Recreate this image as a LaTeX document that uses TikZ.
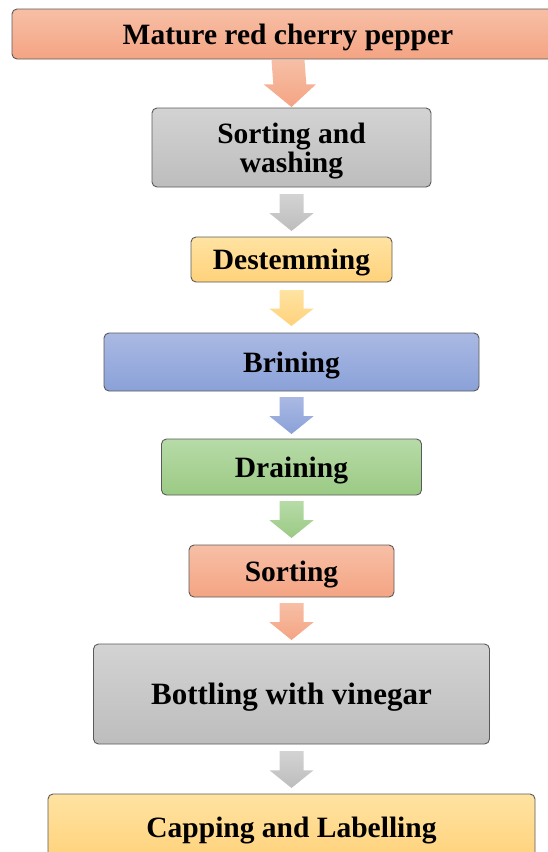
\documentclass[tikz,border=0pt]{standalone}
\usepackage{fontspec}
\setmainfont{Liberation Serif}
\usetikzlibrary{calc}
\definecolor{salmonT}{HTML}{F7BFA6}
\definecolor{salmonB}{HTML}{F4A483}
\definecolor{grayT}{HTML}{D3D3D3}
\definecolor{grayB}{HTML}{BDBDBD}
\definecolor{yellowT}{HTML}{FFE3A2}
\definecolor{yellowB}{HTML}{FFD27B}
\definecolor{blueT}{HTML}{AAB9E3}
\definecolor{blueB}{HTML}{8AA1D8}
\definecolor{greenT}{HTML}{B7DBA8}
\definecolor{greenB}{HTML}{9BCA84}
\definecolor{edgecol}{HTML}{5A5A5A}
\tikzset{
  stepbox/.style={draw=edgecol, line width=0.9pt, rounded corners=5pt,
    top color=#1T, bottom color=#1B, inner sep=0pt, outer sep=0pt,
    text depth=0pt, align=center, font=\bfseries\fontsize{29.5}{29}\selectfont}
}
% from, to, colour, top gap, bottom gap, half shaft, half head
\newcommand{\flowarrow}[7]{%
  \coordinate (ta) at ($(#1.south)+(0,#4)$);
  \coordinate (te) at ($(#2.north)+(0,-#5)$);
  \coordinate (tm) at ($(ta)!0.52!(te)$);
  \path[top color=#3T, bottom color=#3B]
    ($(ta)+(-#6,0)$) -- ($(ta)+(#6,0)$) -- ($(tm)+(#6,0)$) -- ($(tm)+(#7,0)$)
    -- (te) -- ($(tm)+(-#7,0)$) -- ($(tm)+(-#6,0)$) -- cycle;
}
\begin{document}
\begin{tikzpicture}[x=1pt,y=-1pt]
\useasboundingbox (0,0) rectangle (547,852);
\node[stepbox=salmon, minimum width=552pt, minimum height=50pt] (n1) at (288,34) {Mature red cherry pepper};
\node[stepbox=gray, minimum width=279pt, minimum height=79pt] (n2) at (291.5,147.5) {Sorting and\\washing};
\node[stepbox=yellow, minimum width=201pt, minimum height=45pt] (n3) at (291.5,259.5) {Destemming};
\node[stepbox=blue, minimum width=375pt, minimum height=58pt] (n4) at (291.5,362) {Brining};
\node[stepbox=green, minimum width=260pt, minimum height=56pt] (n5) at (291.5,467) {Draining};
\node[stepbox=salmon, minimum width=205pt, minimum height=52pt] (n6) at (291.5,571) {Sorting};
\node[stepbox=gray, minimum width=396pt, minimum height=100pt, font=\bfseries\fontsize{31}{31}\selectfont] (n7) at (291.5,694) {Bottling with vinegar};
\node[stepbox=yellow, minimum width=487pt, minimum height=66pt] (n8) at (291.5,827) {Capping and Labelling};
\flowarrow{n1}{n2}{salmon}{1}{1}{16.5}{26}
\flowarrow{n2}{n3}{gray}{7}{6}{12}{22}
\flowarrow{n3}{n4}{yellow}{8}{7}{12}{22}
\flowarrow{n4}{n5}{blue}{6}{5}{12}{22}
\flowarrow{n5}{n6}{green}{6}{7}{12}{22}
\flowarrow{n6}{n7}{salmon}{6}{4}{12}{22}
\flowarrow{n7}{n8}{gray}{7}{6}{12}{22}
\end{tikzpicture}
\end{document}
